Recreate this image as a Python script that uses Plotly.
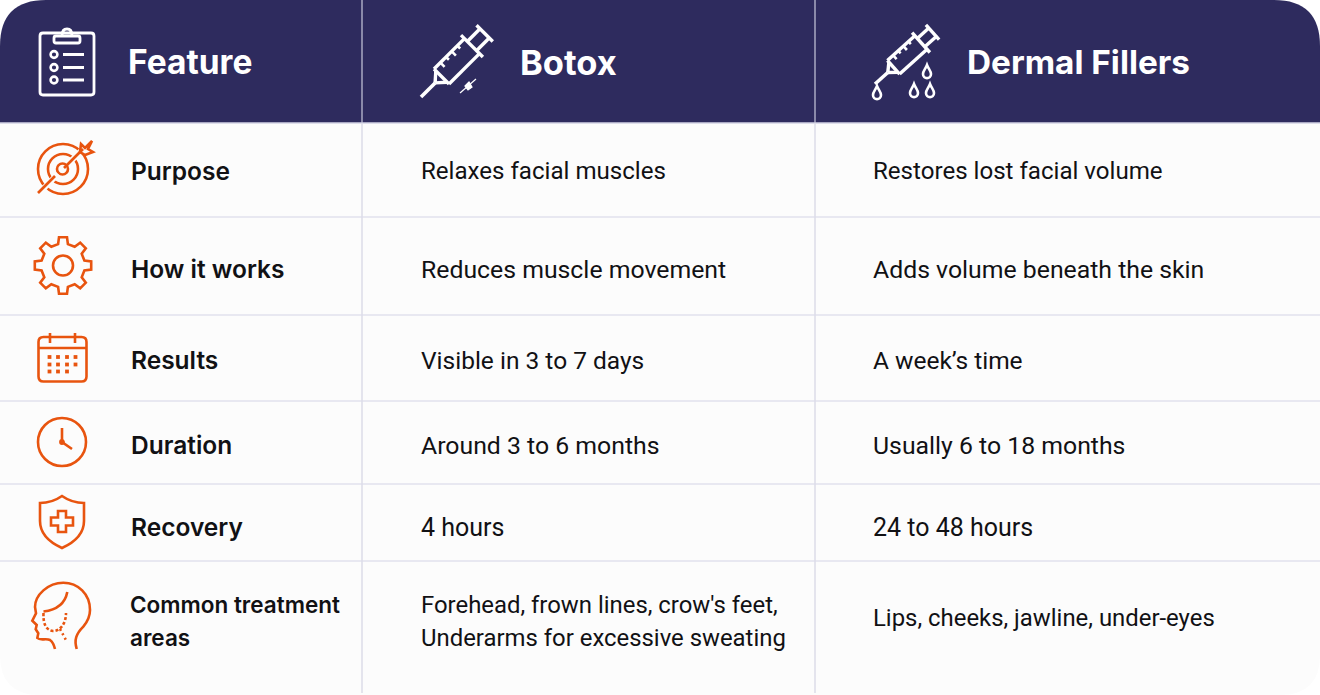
import math

import plotly.graph_objects as go

WIDTH = 1320
HEIGHT = 695

headers = ["Feature", "Botox", "Dermal Fillers"]
features = ["Purpose", "How it works", "Results", "Duration", "Recovery", "Common treatment<br>areas"]
botox = [
    "Relaxes facial muscles",
    "Reduces muscle movement",
    "Visible in 3 to 7 days",
    "Around 3 to 6 months",
    "4 hours",
    "Forehead, frown lines, crow's feet,<br>Underarms for excessive sweating",
]
fillers = [
    "Restores lost facial volume",
    "Adds volume beneath the skin",
    "A week’s time",
    "Usually 6 to 18 months",
    "24 to 48 hours",
    "Lips, cheeks, jawline, under-eyes",
]

row_lines = [217, 315, 401, 484, 561]
col_lines = [362, 815]
row_text_y = [171, 269, 360, 445, 527, 620]
# Roboto runs a bit off the original per row, so sizes are fitted row by row
row_text_size = [24.1, 24.8, 24.5, 24.8, 25, 23.9]
HEADER_H = 123

NAVY = "#2e2b5e"
ORANGE = "#e8540f"
INK = "#111114"
RULE = "#e2e2ee"
BODY = "#fcfcfc"
FONT = "Roboto"

fig = go.Figure()


def path(d, color=ORANGE, width=2.6, fill=None, dash=None):
    fig.add_shape(
        type="path", path=d, xref="x", yref="y",
        line=dict(color=color, width=width, dash=dash or "solid"),
        fillcolor=fill or "rgba(0,0,0,0)",
    )


def line(x0, y0, x1, y1, color=ORANGE, width=2.6):
    path(f"M{x0} {y0} L{x1} {y1}", color, width)


def circle(cx, cy, r, color=ORANGE, width=2.6, fill=None):
    fig.add_shape(
        type="circle", xref="x", yref="y",
        x0=cx - r, x1=cx + r, y0=cy - r, y1=cy + r,
        line=dict(color=color, width=width),
        fillcolor=fill or "rgba(0,0,0,0)",
    )


def round_rect(x0, y0, x1, y1, r, color=ORANGE, width=2.6, fill=None):
    path(
        f"M{x0 + r} {y0} L{x1 - r} {y0} Q{x1} {y0} {x1} {y0 + r} L{x1} {y1 - r} Q{x1} {y1} {x1 - r} {y1} "
        f"L{x0 + r} {y1} Q{x0} {y1} {x0} {y1 - r} L{x0} {y0 + r} Q{x0} {y0} {x0 + r} {y0} Z",
        color, width, fill,
    )


def syringe(tx, ty, k=1.0, angle=-45):
    # tx, ty is the needle tip, u runs up the barrel and v across it
    def pt(u, v):
        c = math.cos(math.radians(angle))
        s = math.sin(math.radians(angle))
        return round(tx + k * (u * c - v * s), 1), round(ty + k * (u * s + v * c), 1)

    def seg(u0, v0, u1, v1, width=3.4):
        a, b = pt(u0, v0), pt(u1, v1)
        line(a[0], a[1], b[0], b[1], "white", width)

    seg(0, 0, 20, 0, 3.6)
    seg(20, 0, 29, -8)
    seg(20, 0, 29, 8)
    seg(29, -10.6, 29, 10.6)
    seg(29, -10.6, 72, -10.6)
    seg(29, 10.6, 72, 10.6)
    seg(72, -15.5, 72, 15.5)
    seg(72, -6.5, 90, -6.5)
    seg(72, 6.5, 90, 6.5)
    seg(90, -11.5, 90, 11.5)
    for u, depth in zip([38, 46, 54, 62], [6, 4, 6, 4]):
        seg(u, -10.6, u, -10.6 + depth, 2.6)


def drop(cx, cy):
    path(
        f"M{cx} {cy - 7} C{cx + 1.5} {cy - 3} {cx + 4} {cy - 1} {cx + 4} {cy + 2} "
        f"C{cx + 4} {cy + 7.5} {cx - 4} {cy + 7.5} {cx - 4} {cy + 2} "
        f"C{cx - 4} {cy - 1} {cx - 1.5} {cy - 3} {cx} {cy - 7} Z",
        "white", 2.6,
    )


path(
    f"M0 {HEADER_H} L{WIDTH} {HEADER_H} L{WIDTH} {HEIGHT - 40} Q{WIDTH} {HEIGHT} {WIDTH - 40} {HEIGHT} "
    f"L40 {HEIGHT} Q0 {HEIGHT} 0 {HEIGHT - 40} Z",
    color=BODY, width=0, fill=BODY,
)
path(
    f"M0 {HEADER_H} L0 46 Q0 0 46 0 L{WIDTH - 46} 0 Q{WIDTH} 0 {WIDTH} 46 L{WIDTH} {HEADER_H} Z",
    color=NAVY, width=0, fill=NAVY,
)
line(0, HEADER_H, WIDTH, HEADER_H, "#d5d5e6", 1.5)

for y in row_lines:
    line(0, y, WIDTH, y, RULE, 1.5)
for x in col_lines:
    line(x, 0, x, HEADER_H, "#c9c9dc", 1.2)
    line(x, HEADER_H, x, HEIGHT - 2, "#dcdce8", 1.5)

# clipboard
round_rect(40, 33, 94, 95, 3, "white", 2.8)
round_rect(54, 36, 80, 43, 2, "white", 2.8, NAVY)
path("M62 36 Q62 29 67 29 Q72 29 72 36", "white", 2.8)
for y in [54.5, 67.5, 80]:
    circle(54, y, 3.4, "white", 2.6)
    line(63, y, 84, y, "white", 3)

syringe(421, 97)
line(460, 93, 476, 79, "white", 1.2)
path("M465 86 L469 82 L472 87 L468 90 Z", "white", 1.2, "white")
syringe(875, 84, 0.86, -42)
drop(877, 93)
drop(914, 91)
drop(930, 91)
drop(927, 72)

# target
circle(63, 169, 25)
circle(63, 169, 15)
circle(62.5, 169, 5.5)
line(40, 192, 58, 174, BODY, 6)
line(68, 164, 87, 145, BODY, 6)
line(38, 193, 55, 176)
line(64, 168, 83, 149)
path("M80 152 L81 144 L85 148 L92 141 L88 149 L93 152 L85 155 Z")

# gear
gear_pts = []
for i in range(8):
    a = math.radians(i * 45 - 90)
    for off, r in [(-13, 22), (-8, 28.5), (8, 28.5), (13, 22)]:
        b = a + math.radians(off)
        gear_pts.append(f"{63 + r * math.cos(b):.1f} {265.5 + r * math.sin(b):.1f}")
path("M" + " L".join(gear_pts) + " Z")
circle(63, 265.5, 10)

# calendar
round_rect(38.5, 337, 86.5, 381.5, 5)
line(38.5, 348, 86.5, 348)
line(50, 333, 50, 343)
line(75, 333, 75, 343)
for y, cols in [(357, [49.5, 58, 67, 75.5]), (364.5, [49.5, 58, 67, 75.5]), (371.5, [49.5, 58, 67])]:
    for x in cols:
        path(f"M{x - 1.9} {y - 1.9} H{x + 1.9} V{y + 1.9} H{x - 1.9} Z", width=0, fill=ORANGE)

# clock
circle(62, 442, 24)
path("M62 428 L62 442 L72 449")
circle(62, 442, 1.6, fill=ORANGE)

# shield
path("M62 496 Q52 503 40 503 L40 521 Q40 538 62 548 Q84 538 84 521 L84 503 Q72 503 62 496 Z")
path("M58 511 H66 V517.5 H73 V525.5 H66 V532 H58 V525.5 H51 V517.5 H58 Z")

# head
path(
    "M76.7 649 C74 640 76 634 83.3 626.7 C88 621 90 616 90 610 C90 594 78 582.7 63.3 582.7 "
    "C48 582.7 35 595 35 607 L36 613.3 L32.3 620.7 L36.7 625 L35.7 629.3 L38.3 633.3 L37.3 638 "
    "C40 641 46 638 50 640 C53 642 54 645 55 649"
)
path("M67.3 592 C65 604 56 610 43.5 611.5")
path("M43.5 613 C43 624 46 630 53 631 C60 631 66 624 66 613", dash="3px,2px")
path("M60 629 L66 640", dash="2px,3px")


def text(x, y, s, size, color=INK, weight=400, family=FONT, spacing=33):
    # lines are placed one by one, the line gap here is wider than plotly's
    parts = s.split("<br>")
    top = y - spacing * (len(parts) - 1) / 2
    for i, part in enumerate(parts):
        fig.add_annotation(
            x=x, y=top + i * spacing, text=part, xref="x", yref="y", showarrow=False,
            xanchor="left", yanchor="middle", align="left",
            font=dict(family=family, size=size, color=color, weight=weight),
        )


for x, s, size in zip([126, 518, 965], headers, [33.5, 34.5, 33.3]):
    text(x, 62, s, size, "white", 700, "Inter")

for i, s in enumerate(features):
    size = 22.5 if i == 5 else 24.5
    text(128 if i == 5 else 129, row_text_y[i] + (1 if i == 5 else 0), s, size, INK, 600, "Inter")
for i, s in enumerate(botox):
    text(419, row_text_y[i] + (1 if i == 5 else 0), s, row_text_size[i])
for i, s in enumerate(fillers):
    text(871, row_text_y[i] - (2 if i == 5 else 0), s, row_text_size[i])

fig.update_layout(
    width=WIDTH, height=HEIGHT,
    margin=dict(l=0, r=0, t=0, b=0),
    paper_bgcolor="white", plot_bgcolor="white",
    showlegend=False,
    xaxis=dict(range=[0, WIDTH], visible=False, fixedrange=True),
    yaxis=dict(range=[HEIGHT, 0], visible=False, fixedrange=True),
)

fig.write_html(
    "out.html",
    config={"displayModeBar": False},
    post_script="document.body.style.margin='0';document.documentElement.style.overflow='hidden';",
)
